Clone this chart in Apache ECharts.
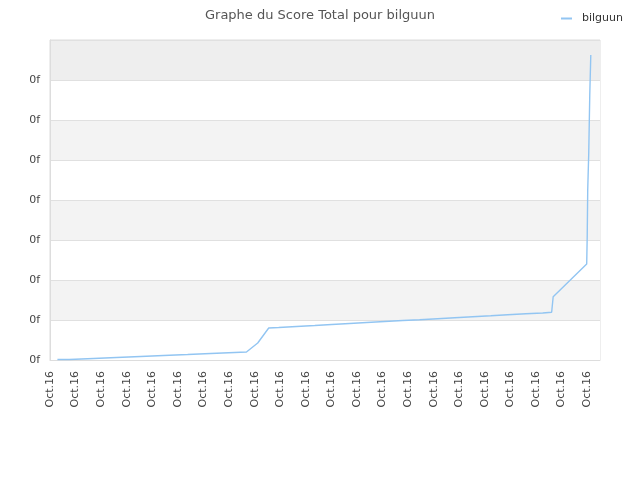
<!DOCTYPE html>
<html>
<head>
<meta charset="utf-8">
<script src="https://cdn.jsdelivr.net/npm/echarts@6/dist/echarts.min.js"></script>
<style>html,body{margin:0;padding:0;background:#fff}#c{width:640px;height:480px}</style>
</head>
<body>
<div id="c"></div>
<script>
var seriesName = 'bilguun';
var xLabel = 'Oct.16';
var yLabel = '0f';
var xPos = [0.29,0.76,0.76,1.70,1.70,2.60,2.60,3.54,3.54,4.44,4.44,5.38,5.38,6.28,6.28,7.22,7.22,7.68,8.12,8.55,8.94,8.94,9.64,9.64,10.35,10.35,11.01,11.01,11.71,11.71,12.38,12.38,13.08,13.08,13.79,13.79,14.45,14.45,15.15,15.15,15.82,15.82,16.52,16.52,17.23,17.23,17.89,17.89,18.60,18.60,19.26,19.26,19.61,19.67,20.98,21.00,21.02,21.06,21.10,21.14];
var scores = [0.0125,0.0125,0.0375,0.0375,0.0625,0.0625,0.0875,0.0875,0.1125,0.1125,0.1375,0.1375,0.1625,0.1625,0.1875,0.1875,0.2,0.2,0.425,0.80,0.8125,0.8375,0.8375,0.8625,0.8625,0.8875,0.8875,0.9125,0.9125,0.9375,0.9375,0.9625,0.9625,0.9875,0.9875,1.0075,1.0075,1.0325,1.0325,1.0575,1.0575,1.0825,1.0825,1.105,1.105,1.13,1.13,1.155,1.155,1.175,1.175,1.1925,1.1925,1.5825,2.4,3.08,4.25,5.175,6.625,7.625];

var data = xPos.map(function(x, i){ return [x, scores[i]]; });
var chart = echarts.init(document.getElementById('c'));
chart.setOption({
  animation: false,
  backgroundColor: '#ffffff',
  textStyle: { fontFamily: 'DejaVu Sans' },
  title: {
    text: 'Graphe du Score Total pour ' + seriesName,
    left: 'center', top: 4,
    textStyle: { fontSize: 13, fontWeight: 'normal', color: '#555', fontFamily: 'DejaVu Sans' }
  },
  legend: {
    right: 12, top: 8,
    icon: 'rect', itemWidth: 11, itemHeight: 2, itemGap: 10,
    textStyle: { fontSize: 11, color: '#333', fontFamily: 'DejaVu Sans', padding: [0,0,0,5] },
    data: [seriesName]
  },
  grid: { left: 50, right: 40, top: 40, bottom: 120, show: true, borderColor: '#dddddd', borderWidth: 1, containLabel: false },
  xAxis: {
    type: 'value', min: 0, max: 21.5, interval: 1,
    axisLine: { show: true, lineStyle: { color: '#dddddd' } },
    axisTick: { show: false },
    splitLine: { show: false },
    axisLabel: {
      rotate: 90, fontSize: 11, color: '#444', margin: 11, showMaxLabel: true,
      formatter: function(v){ return Number.isInteger(v) && v <= 21 ? xLabel : ''; }
    }
  },
  yAxis: {
    type: 'value', min: 0, max: 8, interval: 1,
    axisLine: { show: true, lineStyle: { color: '#dddddd' } },
    axisTick: { show: false },
    splitLine: { show: true, lineStyle: { color: '#e0e0e0' } },
    splitArea: { show: true, areaStyle: { color: ['#ffffff','#f3f3f3','#ffffff','#f3f3f3','#ffffff','#f3f3f3','#ffffff','#eeeeee'] } },
    axisLabel: {
      fontSize: 11, color: '#444', margin: 10,
      formatter: function(v){ return v < 8 ? yLabel : ''; }
    }
  },
  series: [{
    name: seriesName, type: 'line', data: data,
    showSymbol: false, symbol: 'none',
    lineStyle: { color: '#92c5f2', width: 1.4 },
    itemStyle: { color: '#92c5f2' }
  }]
});
</script>
</body>
</html>
